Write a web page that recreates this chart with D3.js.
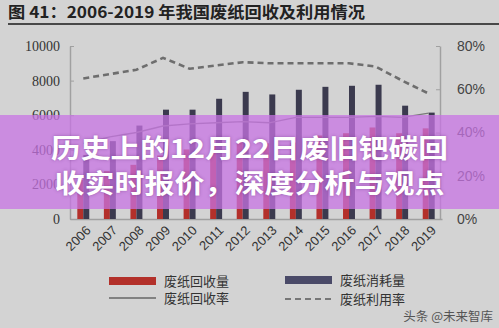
<!DOCTYPE html>
<html>
<head>
<meta charset="utf-8">
<script src="https://cdn.jsdelivr.net/npm/d3@7"></script>
<style>
  html, body { margin: 0; padding: 0; background: #d3d3d3; }
  svg { display: block; }
</style>
</head>
<body>
<svg id="chart"></svg>
<script>
// 2006-2019 废纸回收及利用 (万吨, 比率)
const years = ['2006','2007','2008','2009','2010','2011','2012','2013','2014','2015','2016','2017','2018','2019'];
const recovery = [2260, 2770, 3130, 3670, 4020, 4350, 4470, 4380, 4420, 4830, 4960, 5290, 4960, 5240];
const consumption = [3700, 4500, 5400, 6320, 6320, 6950, 7350, 7200, 7470, 7640, 7700, 7760, 6550, 6150];
const recoveryRate = [0.35, 0.38, 0.40, 0.43, 0.44, 0.445, 0.45, 0.445, 0.47, 0.47, 0.47, 0.475, 0.47, 0.49];
const useRate = [0.65, 0.67, 0.69, 0.745, 0.695, 0.71, 0.725, 0.72, 0.72, 0.72, 0.72, 0.705, 0.64, 0.58];
const leftTicks = [0, 2000, 4000, 6000, 8000, 10000];
const rightTicks = [0, 0.2, 0.4, 0.6, 0.8];

const W = 499, H = 328;
const svg = d3.select('#chart').attr('width', W).attr('height', H);

svg.append('rect').attr('width', W).attr('height', H).attr('fill', '#d3d3d3');

// titre
svg.append('text')
  .attr('x', 8).attr('y', 18)
  .attr('textLength', 357).attr('lengthAdjust', 'spacingAndGlyphs')
  .style('font-family', '"Noto Sans CJK SC", sans-serif')
  .style('font-size', '16px').style('font-weight', 'bold')
  .attr('fill', '#222')
  .text('图 41：2006-2019 年我国废纸回收及利用情况');

svg.append('line')
  .attr('x1', 8).attr('x2', W).attr('y1', 24).attr('y2', 24)
  .attr('stroke', '#1a1a1a').attr('stroke-width', 1.5);

const x0 = d3.scaleBand().domain(years).range([70, 442]).paddingInner(0.55).paddingOuter(0.275);
const x1 = d3.scaleBand().domain(['rec', 'con']).range([0, x0.bandwidth()]);
const yL = d3.scaleLinear().domain([0, 10000]).range([219, 46]);
const yR = d3.scaleLinear().domain([0, 0.8]).range([219, 46]);
const cx = d => x0(d) + x0.bandwidth() / 2;

// axes
const gL = svg.append('g').attr('transform', 'translate(70,0)')
  .call(d3.axisLeft(yL).tickValues(leftTicks).tickSizeInner(-4).tickSizeOuter(0).tickPadding(10).tickFormat(d3.format('d')));
gL.selectAll('text').style('font-family', '"Liberation Serif", serif').style('font-size', '14px').attr('fill', '#333');

const gR = svg.append('g').attr('transform', 'translate(440,0)')
  .call(d3.axisRight(yR).tickValues(rightTicks).tickSizeInner(-4).tickSizeOuter(0).tickPadding(17).tickFormat(d3.format('.0%')));
gR.selectAll('text').style('font-family', '"Liberation Sans", sans-serif').style('font-size', '14px').attr('fill', '#444');

const gB = svg.append('g').attr('transform', 'translate(0,219)')
  .call(d3.axisBottom(x0).tickSize(0).tickSizeOuter(0));
gB.selectAll('text')
  .style('font-family', '"Liberation Sans", sans-serif').style('font-size', '13px').attr('fill', '#333')
  .attr('text-anchor', 'end')
  .attr('transform', 'translate(5,9) rotate(-45)')
  .attr('dy', '0.35em').attr('y', 0);

svg.selectAll('.domain').attr('stroke', '#a0a0a0').attr('stroke-width', 1.5);
svg.selectAll('.tick line').attr('stroke', '#a0a0a0');

// barres
svg.append('g').selectAll('rect')
  .data(years.map((y, i) => ({ y, v: recovery[i] })))
  .join('rect')
  .attr('x', d => x0(d.y) + x1('rec')).attr('width', x1.bandwidth())
  .attr('y', d => yL(d.v)).attr('height', d => 219 - yL(d.v))
  .attr('fill', '#b3302a');

svg.append('g').selectAll('rect')
  .data(years.map((y, i) => ({ y, v: consumption[i] })))
  .join('rect')
  .attr('x', d => x0(d.y) + x1('con')).attr('width', x1.bandwidth())
  .attr('y', d => yL(d.v)).attr('height', d => 219 - yL(d.v))
  .attr('fill', '#3b3a4e');

// lignes
const line = d3.line().x((d, i) => cx(years[i])).y(d => yR(d));
svg.append('path').datum(recoveryRate).attr('d', line)
  .attr('fill', 'none').attr('stroke', '#7a7a7a').attr('stroke-width', 1.3);
svg.append('path').datum(useRate).attr('d', line)
  .attr('fill', 'none').attr('stroke', '#6e6e6e').attr('stroke-width', 2.6)
  .attr('stroke-dasharray', '6,4');

// legende
const lg = svg.append('g').style('font-family', '"Noto Sans CJK SC", sans-serif').style('font-size', '13px');
lg.append('rect').attr('x', 109).attr('y', 277).attr('width', 47).attr('height', 8).attr('fill', '#b3302a');
lg.append('text').attr('x', 164).attr('y', 286).attr('fill', '#333').text('废纸回收量');
lg.append('line').attr('x1', 109).attr('x2', 156).attr('y1', 298).attr('y2', 298).attr('stroke', '#666').attr('stroke-width', 1.3);
lg.append('text').attr('x', 164).attr('y', 303).attr('fill', '#333').text('废纸回收率');
lg.append('rect').attr('x', 285).attr('y', 276).attr('width', 47).attr('height', 8).attr('fill', '#4a4a68');
lg.append('text').attr('x', 340).attr('y', 285).attr('fill', '#333').text('废纸消耗量');
lg.append('line').attr('x1', 285).attr('x2', 332).attr('y1', 299).attr('y2', 299).attr('stroke', '#777').attr('stroke-width', 2.2).attr('stroke-dasharray', '6,4');
lg.append('text').attr('x', 340).attr('y', 304).attr('fill', '#333').text('废纸利用率');

svg.append('text').attr('x', 493).attr('y', 321).attr('text-anchor', 'end')
  .style('font-family', '"Noto Sans CJK SC", sans-serif').style('font-size', '12.5px')
  .attr('fill', '#555').text('头条 @未来智库');

// bandeau
svg.append('rect').attr('x', 0).attr('y', 115).attr('width', W).attr('height', 94)
  .attr('fill', 'rgb(200,115,228)').attr('fill-opacity', 0.74);

const band = [
  { t: '历史上的12月22日废旧钯碳回', y: 158, len: 397 },
  { t: '收实时报价，深度分析与观点', y: 193, len: 390 }
];
svg.append('g').selectAll('text').data(band).join('text')
  .attr('x', 249.5).attr('y', d => d.y).attr('text-anchor', 'middle')
  .attr('textLength', d => d.len).attr('lengthAdjust', 'spacingAndGlyphs')
  .style('font-family', '"Noto Sans CJK SC", sans-serif').style('font-size', '26px').style('font-weight', 'bold')
  .style('text-shadow', '0 0 3px rgba(90,30,110,0.45)')
  .attr('fill', '#ffffff')
  .text(d => d.t);
</script>
</body>
</html>
